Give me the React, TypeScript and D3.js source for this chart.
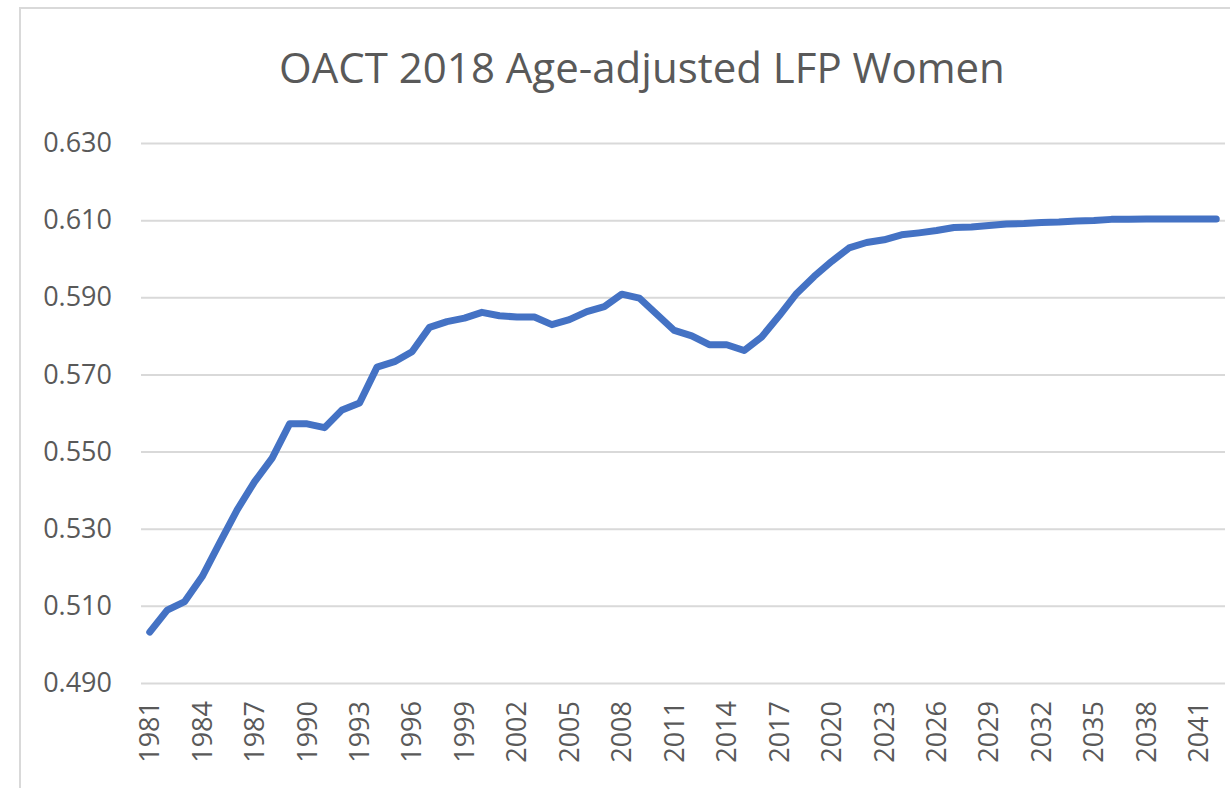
import React, { useRef, useEffect } from 'react';
import * as d3 from 'd3';

const years: number[] = d3.range(1981, 2043);

// age-adjusted labor force participation, women
const lfpWomen: number[] = [
  0.5032, 0.5089, 0.5111, 0.5176, 0.5263, 0.5349, 0.5422, 0.5483, 0.5572, 0.5572,
  0.5562, 0.5608, 0.5626, 0.5719, 0.5733, 0.5759, 0.5822, 0.5837, 0.5846, 0.5861,
  0.5852, 0.5849, 0.5849, 0.5829, 0.5842, 0.5863, 0.5876, 0.5908, 0.5898, 0.5856,
  0.5814, 0.5800, 0.5777, 0.5777, 0.5762, 0.5797, 0.5852, 0.5910, 0.5954, 0.5993,
  0.6028, 0.6042, 0.6049, 0.6062, 0.6067, 0.6073, 0.6081, 0.6082, 0.6086, 0.6090,
  0.6091, 0.6094, 0.6095, 0.6098, 0.6099, 0.6102, 0.6102, 0.6103, 0.6103, 0.6103,
  0.6103, 0.6103,
];

const yTicks: number[] = [0.49, 0.51, 0.53, 0.55, 0.57, 0.59, 0.61, 0.63];
const xTickYears: number[] = years.filter(y => (y - 1981) % 3 === 0);

const title = 'OACT 2018 Age-adjusted LFP Women';

const LfpChart = ({ chartWidth, chartHeight }) => {
  const svgRef = useRef<SVGSVGElement>(null);

  useEffect(() => {
    const svg = d3.select(svgRef.current);
    svg.selectAll('*').remove();

    const margin = { top: 143, right: 5, bottom: 105, left: 141 };
    const right = chartWidth - margin.right;
    const bottom = chartHeight - margin.bottom;
    const font = "'Open Sans', 'Liberation Sans', sans-serif";
    const textColor = '#595959';
    const gridColor = '#d9d9d9';

    // chart area border
    svg.append('rect')
      .attr('x', 20)
      .attr('y', 8)
      .attr('width', chartWidth + 20)
      .attr('height', chartHeight + 20)
      .attr('fill', '#fff')
      .attr('stroke', gridColor)
      .attr('stroke-width', 2);

    const x = d3.scaleBand<number>()
      .domain(years)
      .range([margin.left, right])
      .padding(0);

    const y = d3.scaleLinear()
      .domain([0.49, 0.63])
      .range([bottom, margin.top]);

    svg.append('text')
      .attr('x', 642)
      .attr('y', 83)
      .attr('text-anchor', 'middle')
      .attr('font-family', font)
      .attr('font-size', 42)
      .attr('fill', textColor)
      .text(title);

    // y axis with gridlines
    const yAxis = svg.append('g')
      .attr('transform', `translate(${margin.left},0)`)
      .call(d3.axisLeft(y)
        .tickValues(yTicks)
        .tickFormat(d3.format('.3f'))
        .tickSize(-(right - margin.left))
        .tickPadding(29));
    yAxis.select('.domain').remove();
    yAxis.selectAll('.tick line')
      .attr('stroke', gridColor)
      .attr('stroke-width', 2);
    yAxis.selectAll('.tick text')
      .attr('font-family', font)
      .attr('font-size', 27)
      .attr('fill', textColor);

    // x axis, rotated year labels
    const xAxis = svg.append('g')
      .attr('transform', `translate(0,${bottom})`)
      .call(d3.axisBottom(x).tickValues(xTickYears).tickSize(0));
    xAxis.select('.domain').remove();
    xAxis.selectAll('.tick text')
      .attr('transform', 'rotate(-90)')
      .attr('x', -18)
      .attr('y', 0)
      .attr('dy', '0.35em')
      .style('text-anchor', 'end')
      .attr('font-family', font)
      .attr('font-size', 27)
      .attr('fill', textColor);

    const line = d3.line<number>()
      .x((d, i) => (x(years[i]) as number) + x.bandwidth() / 2)
      .y(d => y(d));

    svg.append('path')
      .datum(lfpWomen)
      .attr('fill', 'none')
      .attr('stroke', '#4472c4')
      .attr('stroke-width', 7)
      .attr('stroke-linejoin', 'round')
      .attr('stroke-linecap', 'round')
      .attr('d', line);
  }, [chartWidth, chartHeight]);

  return <svg ref={svgRef} width={chartWidth} height={chartHeight} />;
};

export default function App() {
  return (
    <div style={{ position: 'absolute', left: 0, top: 0 }}>
      <LfpChart chartWidth={1230} chartHeight={788} />
    </div>
  );
}
